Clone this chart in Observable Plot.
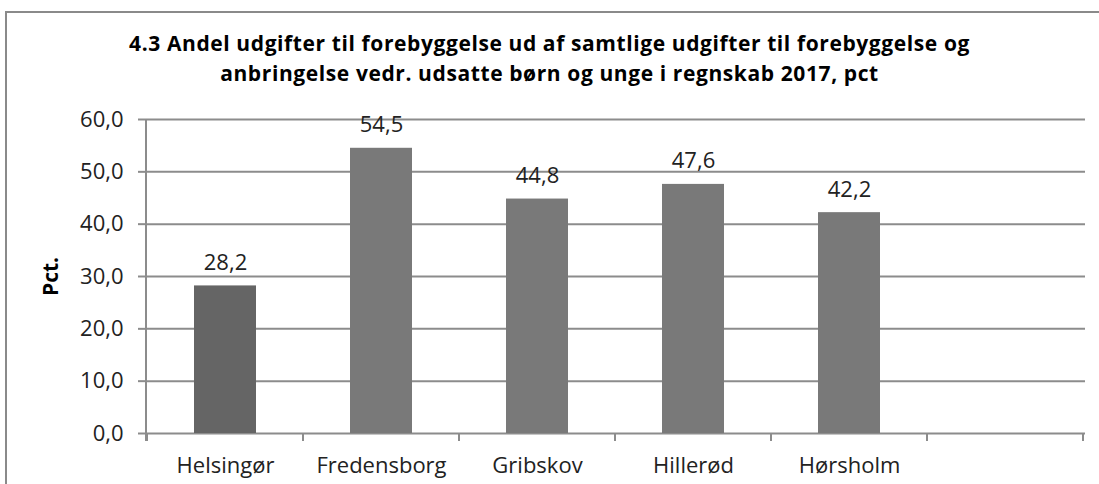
<!DOCTYPE html>
<html>
<head>
<meta charset="utf-8">
<script src="https://cdn.jsdelivr.net/npm/d3@7"></script>
<script src="https://cdn.jsdelivr.net/npm/@observablehq/plot@0.6"></script>
<style>
  html, body { margin: 0; padding: 0; background: #fff; width: 1099px; height: 484px; overflow: hidden; }
  #frame { position: absolute; left: 5px; top: 11px; width: 1200px; height: 600px; border: 2px solid #8a8a8a; box-sizing: border-box; }
  #title { position: relative; height: 100px; box-sizing: border-box; padding-top: 28px; text-align: center;
           font-family: "Open Sans", sans-serif; font-weight: bold; font-size: 21px; letter-spacing: 0.6px; line-height: 30px; color: #000; }
  #chart { position: relative; }
</style>
</head>
<body>
<div id="frame"></div>
<div id="title">4.3 Andel udgifter til forebyggelse ud af samtlige udgifter til forebyggelse og<br>anbringelse vedr. udsatte børn og unge i regnskab 2017, pct</div>
<div id="chart"></div>
<script>
const categories = ["Helsingør", "Fredensborg", "Gribskov", "Hillerød", "Hørsholm"];
const values = [28.2, 54.5, 44.8, 47.6, 42.2];
const yTicks = [0, 10, 20, 30, 40, 50, 60];
const xDomain = [...categories, ""];
const barColors = ["#656565", "#797979", "#797979", "#797979", "#797979"];

const data = categories.map((c, i) => ({cat: c, value: values[i], color: barColors[i]}));
const fmt = d => d.toFixed(1).replace(".", ",");
const grid = "#8c8c8c";
const font = "Open Sans, sans-serif";
const padInner = 0.6;

const axisLines = (index, scales, vals, dims) => {
  const x = scales.x;
  const step = x(xDomain[1]) - x(xDomain[0]);
  const desc = scales.scales && scales.scales.x;
  const bw = (desc && isFinite(desc.bandwidth)) ? desc.bandwidth : step * (1 - padInner);
  const gap = (step - bw) / 2;
  const y0 = scales.y(0);
  const g = d3.create("svg:g").attr("stroke", grid).attr("stroke-width", 2);
  const positions = xDomain.map(d => x(d) - gap);
  positions.push(x(xDomain[xDomain.length - 1]) + bw + gap);
  positions.forEach(p => {
    g.append("line").attr("x1", p).attr("x2", p).attr("y1", y0).attr("y2", y0 + 8);
  });
  g.append("line").attr("x1", dims.marginLeft).attr("x2", dims.marginLeft)
    .attr("y1", scales.y(yTicks[yTicks.length - 1])).attr("y2", y0 + 8);
  return g.node();
};

const chart = Plot.plot({
  width: 1099,
  height: 384,
  marginTop: 19,
  marginBottom: 51,
  marginLeft: 146,
  marginRight: 14,
  style: {fontFamily: font, fontSize: "22px", color: "#222", background: "transparent"},
  x: {domain: xDomain, paddingInner: padInner, paddingOuter: 0.3, label: null},
  y: {domain: [0, 60], label: null},
  marks: [
    Plot.gridY(yTicks, {stroke: grid, strokeOpacity: 1, strokeWidth: 2}),
    Plot.barY(data, {x: "cat", y: "value", fill: "color"}),
    axisLines,
    Plot.axisY({ticks: yTicks, tickFormat: fmt, tickSize: 8, tickPadding: 15, stroke: grid, strokeWidth: 2, fill: "#222", label: null, fontSize: 22}),
    Plot.axisX({tickSize: 0, tickPadding: 24, fill: "#222", label: null, fontSize: 22}),
    Plot.text(data, {x: "cat", y: "value", text: d => fmt(d.value), dy: -16, lineAnchor: "bottom", fill: "#222", fontSize: 22}),
    Plot.text(["Pct."], {frameAnchor: "left", textAnchor: "middle", dx: -95, rotate: -90, fontWeight: "bold", fontSize: 21, fill: "#000"})
  ]
});
document.getElementById("chart").appendChild(chart);
</script>
</body>
</html>
